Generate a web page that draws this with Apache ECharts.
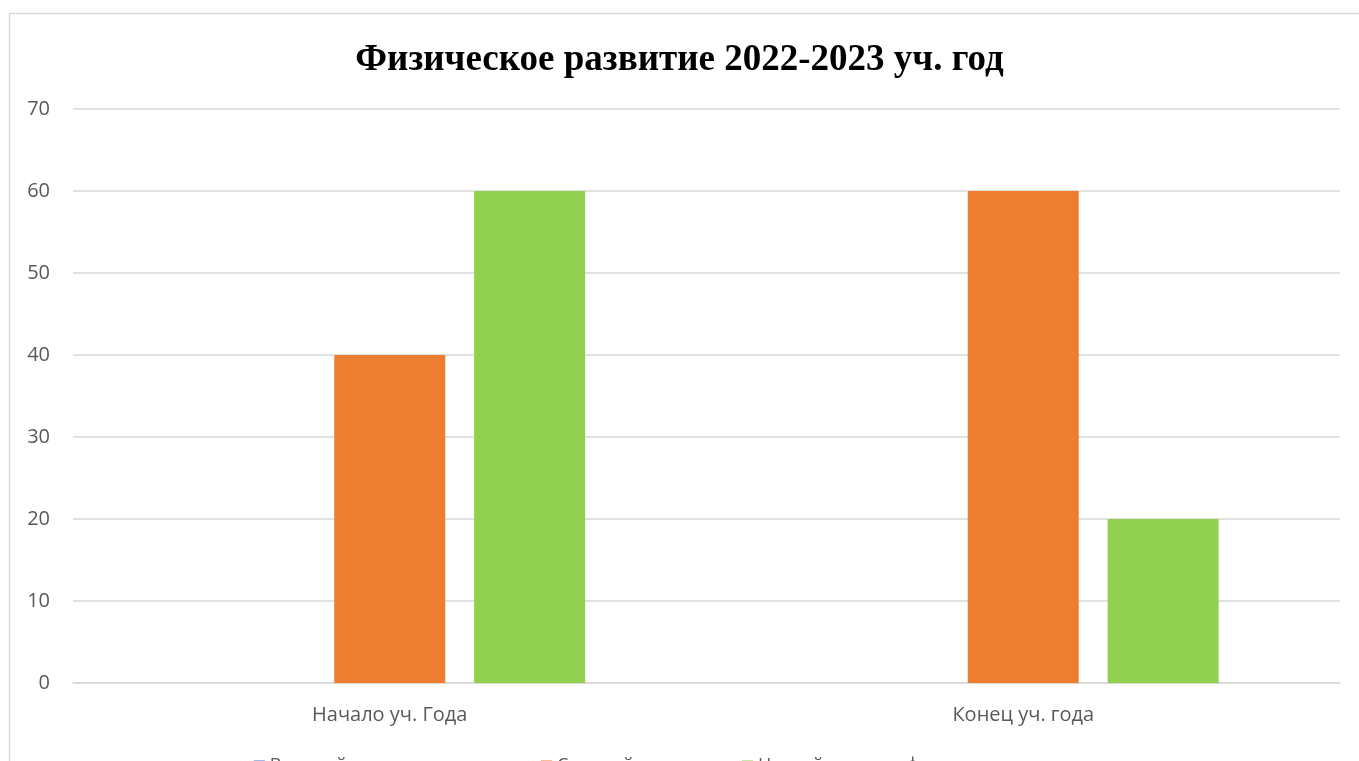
<!DOCTYPE html>
<html>
<head>
<meta charset="utf-8">
<script src="https://cdn.jsdelivr.net/npm/echarts@6/dist/echarts.min.js"></script>
<style>
html,body{margin:0;padding:0;background:#fff;}
#c{width:1359px;height:761px;}
</style>
</head>
<body>
<div id="c"></div>
<script>
const categories = ['Начало уч. Года', 'Конец уч. года'];
const seriesNames = ['Высокий уровень развития', 'Средний уровень', 'Низкий уровень физического развития'];
const highValues = [0, 0];
const midValues = [40, 60];
const lowValues = [60, 20];
const yTicks = [0, 10, 20, 30, 40, 50, 60, 70];
const colors = ['#4472C4', '#ED7D31', '#92D050'];

const chart = echarts.init(document.getElementById('c'));
const valuesList = [highValues, midValues, lowValues];
chart.setOption({
  animation: false,
  title: {
    text: 'Физическое развитие 2022-2023 уч. год',
    left: 'center',
    top: 37,
    textStyle: {fontFamily: 'Liberation Serif', fontSize: 37, fontWeight: 'bold', color: '#000'}
  },
  graphic: [{
    type: 'rect', silent: true,
    shape: {x: 9.5, y: 13.5, width: 1400, height: 800},
    style: {fill: 'none', stroke: '#d9d9d9', lineWidth: 1.5}
  }],
  legend: {
    data: seriesNames,
    left: 'center',
    top: 757,
    padding: 0,
    itemWidth: 11,
    itemHeight: 11,
    itemGap: 30,
    icon: 'rect',
    textStyle: {fontFamily: 'Open Sans', fontSize: 18, color: '#595959'}
  },
  grid: {left: 73, right: 19, top: 109, bottom: 78, containLabel: false},
  xAxis: {
    type: 'category',
    data: categories,
    axisLine: {show: true, lineStyle: {color: '#d9d9d9', width: 1.5}},
    axisTick: {show: false},
    axisLabel: {fontFamily: 'Open Sans', fontSize: 20, color: '#595959', margin: 22}
  },
  yAxis: {
    type: 'value',
    min: yTicks[0],
    max: yTicks[yTicks.length - 1],
    interval: 10,
    axisLine: {show: false},
    axisTick: {show: false},
    splitLine: {lineStyle: {color: '#d9d9d9', width: 1.5}},
    axisLabel: {fontFamily: 'Open Sans', fontSize: 20, color: '#595959', margin: 23}
  },
  series: seriesNames.map((n, i) => ({
    name: n,
    type: 'bar',
    data: valuesList[i],
    barWidth: 111,
    barGap: '26%',
    itemStyle: {color: colors[i]}
  }))
});
</script>
</body>
</html>
